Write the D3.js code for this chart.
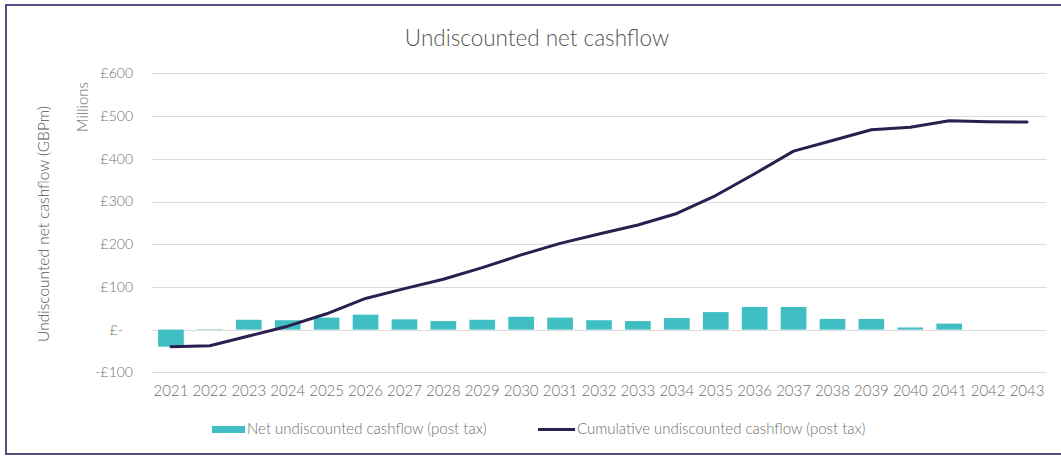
<!DOCTYPE html>
<html>
<head>
<meta charset="utf-8">
<script src="https://cdn.jsdelivr.net/npm/d3@7"></script>
<style>
  html, body { margin: 0; padding: 0; background: #fff; }
  svg { display: block; font-family: Lato, "Open Sans", sans-serif; font-weight: 300; }
</style>
</head>
<body>
<svg id="chart" width="1061" height="457"></svg>
<script>
// Years on the category axis
const years = ["2021","2022","2023","2024","2025","2026","2027","2028","2029","2030","2031",
               "2032","2033","2034","2035","2036","2037","2038","2039","2040","2041","2042","2043"];
// Net undiscounted cashflow per year (post tax), GBP millions
const netCashflow = [-40, 1, 23, 22, 28, 35, 24, 20, 23, 30, 28, 22, 20, 27, 41, 53, 53, 25, 25, 5, 14, 0, 0];
// Cumulative undiscounted cashflow (post tax), GBP millions
const cumulativeCashflow = [-40, -38, -15, 8, 37, 73, 96, 118, 145, 175, 202, 224, 245, 272, 314, 365, 418, 443, 468, 474, 489, 487, 486];
// Value axis ticks and their labels
const yTicks = [-100, 0, 100, 200, 300, 400, 500, 600];
const yTickLabels = ["-£100", "£-", "£100", "£200", "£300", "£400", "£500", "£600"];

const seriesNames = ["Net undiscounted cashflow (post tax)", "Cumulative undiscounted cashflow (post tax)"];

const barColor = "#3fbfc3";
const lineColor = "#2a1f4f";
const textColor = "#6e6e6e";
const gridColor = "#dcdcdc";

const svg = d3.select("#chart");

// outer frame
svg.append("rect")
  .attr("x", 6).attr("y", 5).attr("width", 1062).attr("height", 449)
  .attr("fill", "#fff").attr("stroke", "#5b4a83").attr("stroke-width", 2);

const plot = { left: 151.5, right: 1046.5, top: 73.4, bottom: 372.3 };

const x = d3.scaleBand()
  .domain(years)
  .range([plot.left, plot.right])
  .paddingInner(0.34)
  .paddingOuter(0.17);

const y = d3.scaleLinear()
  .domain([-100, 600])
  .range([plot.bottom, plot.top]);

// title
svg.append("text")
  .attr("x", 537).attr("y", 46)
  .attr("text-anchor", "middle")
  .attr("font-size", 22.5)
  .attr("fill", "#555")
  .text("Undiscounted net cashflow");

// gridlines
svg.append("g")
  .selectAll("line")
  .data(yTicks)
  .join("line")
  .attr("x1", plot.left).attr("x2", plot.right)
  .attr("y1", d => Math.round(y(d)) + 0.5).attr("y2", d => Math.round(y(d)) + 0.5)
  .attr("stroke", gridColor).attr("stroke-width", 1);

// value axis labels
const yAxis = d3.axisLeft(y)
  .tickValues(yTicks)
  .tickSize(0)
  .tickPadding(0)
  .tickFormat((d, i) => yTickLabels[i]);
const gy = svg.append("g").attr("transform", "translate(133,0)").call(yAxis);
gy.select(".domain").remove();
gy.selectAll("text")
  .attr("font-family", "Lato, sans-serif")
  .attr("font-weight", 300)
  .attr("font-size", 14)
  .attr("fill", textColor)
  .attr("dx", d => d === 0 ? -10 : 0);

// category axis labels
const xAxis = d3.axisBottom(x).tickSize(0).tickPadding(0);
const gx = svg.append("g").attr("transform", "translate(0,385)").call(xAxis);
gx.select(".domain").remove();
gx.selectAll("text")
  .attr("font-family", "Lato, sans-serif")
  .attr("font-weight", 300)
  .attr("font-size", 15)
  .attr("fill", textColor);

// axis titles
svg.append("text")
  .attr("transform", "translate(49,224) rotate(-90)")
  .attr("text-anchor", "middle")
  .attr("font-size", 15.5)
  .attr("fill", "#555")
  .text("Undiscounted net cashflow (GBPm)");

svg.append("text")
  .attr("transform", "translate(88,107) rotate(-90)")
  .attr("text-anchor", "middle")
  .attr("font-size", 15)
  .attr("fill", textColor)
  .text("Millions");

// bars
svg.append("g")
  .selectAll("rect")
  .data(years.map((yr, i) => ({ yr, v: netCashflow[i] })))
  .join("rect")
  .attr("x", d => x(d.yr))
  .attr("width", x.bandwidth())
  .attr("y", d => y(Math.max(0, d.v)))
  .attr("height", d => Math.abs(y(d.v) - y(0)))
  .attr("fill", barColor);

// cumulative line
const line = d3.line()
  .x((d, i) => x(years[i]) + x.bandwidth() / 2)
  .y(d => y(d));
svg.append("path")
  .datum(cumulativeCashflow)
  .attr("d", line)
  .attr("fill", "none")
  .attr("stroke", lineColor)
  .attr("stroke-width", 3)
  .attr("stroke-linejoin", "round")
  .attr("stroke-linecap", "round");

// legend
const legend = svg.append("g");
legend.append("rect")
  .attr("x", 212).attr("y", 426).attr("width", 33).attr("height", 7)
  .attr("fill", barColor);
legend.append("text")
  .attr("x", 247).attr("y", 434)
  .attr("font-size", 15)
  .attr("fill", textColor)
  .text(seriesNames[0]);
legend.append("line")
  .attr("x1", 538).attr("x2", 575).attr("y1", 429.5).attr("y2", 429.5)
  .attr("stroke", lineColor).attr("stroke-width", 3);
legend.append("text")
  .attr("x", 577).attr("y", 434)
  .attr("font-size", 15)
  .attr("fill", textColor)
  .text(seriesNames[1]);
</script>
</body>
</html>
